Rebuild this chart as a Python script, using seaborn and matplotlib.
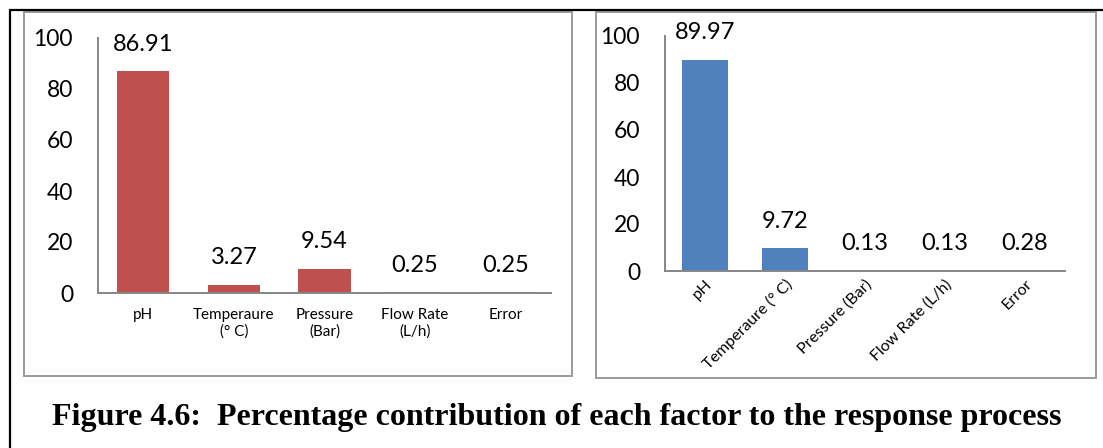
import matplotlib
matplotlib.use("Agg")
import matplotlib.pyplot as plt
from matplotlib.patches import Rectangle
from matplotlib.lines import Line2D
from matplotlib.transforms import ScaledTranslation
import seaborn as sns
import pandas as pd

# Percentage contribution of each factor (two response analyses)
factors_left = ["pH", "Temperaure\n(° C)", "Pressure\n(Bar)", "Flow Rate\n(L/h)", "Error"]
contrib_left = [86.91, 3.27, 9.54, 0.25, 0.25]

factors_right = ["pH", "Temperaure (° C)", "Pressure (Bar)", "Flow Rate (L/h)", "Error"]
contrib_right = [89.97, 9.72, 0.13, 0.13, 0.28]

y_ticks = [0, 20, 40, 60, 80, 100]
caption = "Figure 4.6:  Percentage contribution of each factor to the response process"

RED = "#C0504D"
BLUE = "#4F81BD"
AXIS_GREY = "#868686"
FRAME_GREY = "#9a9a9a"

W, H = 1103, 448
sns.set_theme(style="white")
plt.rcParams["font.family"] = ["Lato", "DejaVu Sans"]
plt.rcParams["text.color"] = "black"
plt.rcParams["xtick.color"] = "black"
plt.rcParams["ytick.color"] = "black"

fig = plt.figure(figsize=(W / 100, H / 100), dpi=100)


def rect(x0, y0, x1, y1):
    """Pixel box (top-left origin) -> figure-fraction [left, bottom, width, height]."""
    return [x0 / W, 1 - y1 / H, (x1 - x0) / W, (y1 - y0) / H]


# outer black frame (left and top edges)
fig.add_artist(Line2D([10 / W, 10 / W], [0, 1 - 10 / H], color="black", lw=1.6,
                      transform=fig.transFigure))
fig.add_artist(Line2D([10 / W, 1], [1 - 10 / H, 1 - 10 / H], color="black", lw=1.6,
                      transform=fig.transFigure))

# grey chart-area frames
for x0, y0, x1, y1 in [(24, 12, 572, 376), (596, 12, 1096, 378)]:
    l, b, w, h = rect(x0, y0, x1, y1)
    fig.add_artist(Rectangle((l, b), w, h, fill=False, edgecolor=FRAME_GREY, lw=1.4,
                             transform=fig.transFigure))


def draw_panel(ax, cats, vals, color, rotate):
    df = pd.DataFrame({"factor": cats, "pct": vals})
    sns.barplot(data=df, x="factor", y="pct", color=color, saturation=1,
                width=0.575, edgecolor="none", ax=ax)
    ax.set_xlim(-0.5, len(cats) - 0.5)
    ax.set_ylim(0, 100)
    ax.set_yticks(y_ticks)
    ax.set_yticklabels([str(t) for t in y_ticks], fontsize=16.5, color="black")
    ax.set_xlabel("")
    ax.set_ylabel("")
    ax.set_facecolor("none")
    for s in ["top", "right"]:
        ax.spines[s].set_visible(False)
    for s in ["left", "bottom"]:
        ax.spines[s].set_color(AXIS_GREY)
        ax.spines[s].set_linewidth(1.4)
    ax.tick_params(axis="y", length=0, pad=18)
    ax.set_xticks(range(len(cats)))
    if rotate:
        ax.tick_params(axis="x", length=0, pad=8)
        labels = ax.set_xticklabels(cats, rotation=45, ha="right", va="center",
                                    rotation_mode="anchor", fontsize=11.5, color="black")
        shift = ScaledTranslation(5 / 100, 0, fig.dpi_scale_trans)
        for lab in labels:
            lab.set_transform(lab.get_transform() + shift)
    else:
        ax.tick_params(axis="x", length=0, pad=11)
        ax.set_xticklabels(cats, fontsize=11, linespacing=1.2, color="black")
    for i, v in enumerate(vals):
        ax.annotate(f"{v:.2f}", (i, v), xytext=(0, 27), textcoords="offset pixels",
                    ha="center", va="center", fontsize=17, color="black")


ax_left = fig.add_axes(rect(98, 38, 551, 293))
draw_panel(ax_left, factors_left, contrib_left, RED, rotate=False)

ax_right = fig.add_axes(rect(665, 36, 1065, 271))
draw_panel(ax_right, factors_right, contrib_right, BLUE, rotate=True)

fig.text(557 / W, 1 - 417 / H, caption, ha="center", va="center", color="black",
         family="Liberation Serif", fontweight="bold", fontsize=23)

fig.savefig("out.png", dpi=100, facecolor="white")
